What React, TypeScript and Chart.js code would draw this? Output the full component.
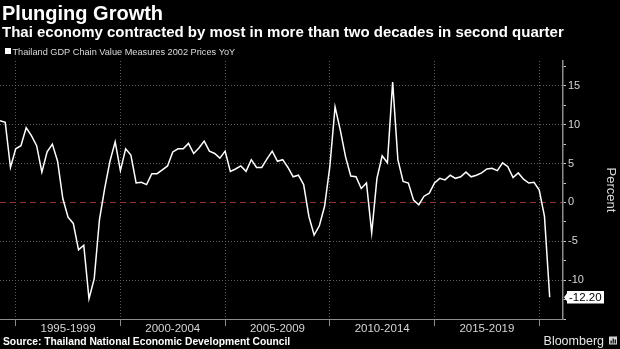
import { useEffect, useRef } from 'react';
import { Chart, registerables } from 'chart.js';

Chart.register(...registerables);

const FONT = '"Liberation Sans", Arial, sans-serif';

// Thailand GDP chain volume YoY %, quarterly, starting 1994 Q1
const START_YEAR = 1994;
const gdpYoY = [
  10.5, 10.3, 4.5, 6.9, 7.3, 9.6, 8.6, 7.3, 3.9, 6.5,
  7.5, 5.3, 0.5, -1.9, -2.7, -6.1, -5.5, -12.4, -9.8, -2.2,
  1.8, 5.3, 7.8, 4.1, 6.9, 6.1, 2.5, 2.6, 2.3, 3.7,
  3.7, 4.2, 4.7, 6.5, 6.9, 6.9, 7.6, 6.3, 7.0, 7.9,
  6.6, 6.3, 5.7, 6.6, 4.0, 4.3, 4.7, 4.0, 5.5, 4.5,
  4.5, 5.6, 6.6, 5.3, 5.5, 4.5, 3.3, 3.5, 2.3, -1.8,
  -4.2, -3.0, -0.5, 4.6, 12.3, 9.3, 5.9, 3.4, 3.3, 1.8,
  2.5, -3.9, 3.1, 6.0, 5.1, 15.5, 5.5, 2.7, 2.5, 0.3,
  -0.3, 0.8, 1.2, 2.5, 3.1, 2.9, 3.5, 3.1, 3.3, 3.9,
  3.3, 3.5, 3.8, 4.3, 4.4, 4.1, 5.1, 4.6, 3.2, 3.8,
  3.0, 2.5, 2.6, 1.6, -1.8, -12.2,
];
const quarters = gdpYoY.map((_, i) => `${START_YEAR + Math.floor(i / 4)} Q${(i % 4) + 1}`);

const periodBounds = [1995, 2000, 2005, 2010, 2015, 2020];
const periodLabels = ['1995-1999', '2000-2004', '2005-2009', '2010-2014', '2015-2019'];
const yTickValues = [-15, -12.5, -10, -7.5, -5, -2.5, 0, 2.5, 5, 7.5, 10, 12.5, 15, 17.5];
const yLabelled = [-10, -5, 0, 5, 10, 15];

const TITLE = 'Plunging Growth';
const SUBTITLE = 'Thai economy contracted by most in more than two decades in second quarter';
const LEGEND = 'Thailand GDP Chain Value Measures 2002 Prices YoY';
const SOURCE = 'Source: Thailand National Economic Development Council';

const GRID = '#5e5e5e';
const ZERO = '#8e3232';
const AXIS = '#8c8c8c';
const TICK_TEXT = '#d6d6d6';

const quarterEnd = (q: string) => {
  const [y, qq] = q.split(' Q');
  return Number(y) + Number(qq) / 4;
};

const xTicks: number[] = [];
periodBounds.forEach((b, i) => {
  xTicks.push(b);
  if (i < periodLabels.length) xTicks.push(b + 2.5);
});

const isBound = (v: number | undefined) => v !== undefined && periodBounds.includes(v);

const decorPlugin = {
  id: 'decor',
  beforeDraw(chart: any) {
    const { ctx, width, height } = chart;
    ctx.save();
    ctx.fillStyle = '#000';
    ctx.fillRect(0, 0, width, height);
    ctx.restore();
  },
  afterDraw(chart: any) {
    const { ctx, chartArea, scales } = chart;
    ctx.save();
    ctx.textBaseline = 'alphabetic';
    ctx.textAlign = 'left';
    ctx.fillStyle = '#ffffff';
    ctx.font = `bold 20px ${FONT}`;
    ctx.fillText(TITLE, 2, 20);
    ctx.font = `bold 15px ${FONT}`;
    ctx.fillText(SUBTITLE, 2, 37);

    // legend
    ctx.fillStyle = '#ffffff';
    ctx.fillRect(5, 48, 6, 6);
    ctx.fillStyle = '#dcdcdc';
    ctx.font = `9.2px ${FONT}`;
    ctx.fillText(LEGEND, 12.5, 54.5);

    // footer
    ctx.fillStyle = '#ffffff';
    ctx.font = `bold 10.3px ${FONT}`;
    ctx.fillText(SOURCE, 3, 344.5);
    ctx.fillStyle = '#e6e6e6';
    ctx.font = `12.5px ${FONT}`;
    ctx.textAlign = 'right';
    ctx.fillText('Bloomberg', 604, 344.5);
    // logo
    ctx.fillStyle = '#d4d4d4';
    ctx.fillRect(609, 336.5, 8, 8);
    ctx.fillStyle = '#000';
    ctx.fillRect(610.5, 340.5, 1.2, 3);
    ctx.fillRect(612.6, 338.5, 1.2, 5);
    ctx.fillRect(614.7, 339.5, 1.2, 4);

    // last value tag
    const last = gdpYoY[gdpYoY.length - 1];
    const y = scales.y.getPixelForValue(last);
    const x0 = chartArea.right + 1;
    ctx.fillStyle = '#ffffff';
    ctx.beginPath();
    ctx.moveTo(x0, y);
    ctx.lineTo(x0 + 3, y - 4);
    ctx.lineTo(x0 + 3, y - 6.3);
    ctx.lineTo(604, y - 6.3);
    ctx.lineTo(604, y + 6.3);
    ctx.lineTo(x0 + 3, y + 6.3);
    ctx.lineTo(x0 + 3, y + 4);
    ctx.closePath();
    ctx.fill();
    ctx.fillStyle = '#000';
    ctx.textAlign = 'left';
    ctx.textBaseline = 'middle';
    ctx.font = `11.5px ${FONT}`;
    ctx.fillText(last.toFixed(2), x0 + 5, y + 0.5);
    ctx.restore();
  },
};

export default function App() {
  const ref = useRef<HTMLCanvasElement | null>(null);

  useEffect(() => {
    document.body.style.margin = '0';
    document.body.style.background = '#000';
    const canvas = ref.current;
    if (!canvas) return;
    const chart = new Chart(canvas, {
      type: 'line',
      data: {
        datasets: [
          {
            label: LEGEND,
            data: gdpYoY.map((v, i) => ({ x: quarterEnd(quarters[i]), y: v })),
            borderColor: '#ffffff',
            borderWidth: 1.5,
            pointRadius: 0,
            tension: 0,
            fill: false,
          },
        ],
      },
      options: {
        responsive: false,
        animation: false,
        devicePixelRatio: 1,
        layout: { padding: { top: 61, left: 0, right: 0, bottom: 0 } },
        plugins: {
          legend: { display: false },
          tooltip: { enabled: false },
          title: { display: false },
        },
        scales: {
          x: {
            type: 'linear',
            min: 1994.25,
            max: 2021.135,
            afterBuildTicks: (s: any) => {
              s.ticks = xTicks.map((value) => ({ value }));
            },
            afterFit: (s: any) => {
              s.height = 30;
            },
            grid: {
              color: (c: any) => (isBound(c.tick?.value) ? GRID : 'transparent'),
              tickColor: (c: any) => (isBound(c.tick?.value) ? AXIS : 'transparent'),
              tickLength: 7,
              lineWidth: 1,
            },
            border: {
              color: AXIS,
              width: 1,
              dash: (c: any) => (c.type === 'tick' ? [1, 2] : []),
            },
            ticks: {
              autoSkip: false,
              maxRotation: 0,
              minRotation: 0,
              padding: -4.5,
              color: TICK_TEXT,
              font: { family: FONT, size: 11.5 },
              callback: (v: any) => {
                const idx = periodBounds.findIndex((b) => b + 2.5 === Number(v));
                return idx >= 0 ? periodLabels[idx] : '';
              },
            },
          },
          y: {
            type: 'linear',
            position: 'right',
            min: -15,
            max: 18.2,
            afterBuildTicks: (s: any) => {
              s.ticks = yTickValues.map((value) => ({ value }));
            },
            afterFit: (s: any) => {
              s.width = 57;
            },
            grid: {
              color: (c: any) => {
                const v = c.tick?.value;
                if (v === 0) return ZERO;
                if (yLabelled.includes(v)) return GRID;
                return 'transparent';
              },
              tickColor: '#c8c8c8',
              tickLength: 3,
              lineWidth: 1,
            },
            border: {
              color: AXIS,
              width: 1.5,
              dash: (c: any) =>
                c.type === 'tick' ? (c.tick?.value === 0 ? [6, 4] : [1, 2]) : [],
            },
            ticks: {
              autoSkip: false,
              padding: 2,
              color: TICK_TEXT,
              font: { family: FONT, size: 11 },
              callback: (v: any) => (yLabelled.includes(Number(v)) ? String(v) : ''),
            },
            title: {
              display: true,
              text: 'Percent',
              color: TICK_TEXT,
              font: { family: FONT, size: 13 },
              padding: { top: 2, bottom: 0 },
            },
          },
        },
      },
      plugins: [decorPlugin],
    } as any);
    return () => chart.destroy();
  }, []);

  return (
    <div style={{ width: 620, height: 349, background: '#000' }}>
      <canvas ref={ref} width={620} height={349} />
    </div>
  );
}
